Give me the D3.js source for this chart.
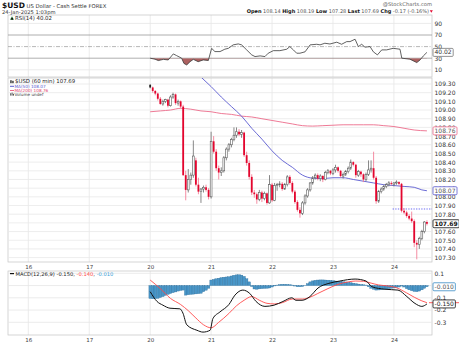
<!DOCTYPE html>
<html><head><meta charset="utf-8">
<script src="https://cdn.jsdelivr.net/npm/d3@7"></script>
<style>
body{margin:0;background:#fff}
svg{display:block}
text{font-family:"DejaVu Sans",Verdana,sans-serif}
</style>
</head><body>
<svg id="c" width="459" height="343"></svg>
<script>
// ---- $USD hourly bars, 20-24 Jan 2025 (bar index = hours since 20 Jan 00:00) ----
const opens = [
109.29,109.26,109.22,109.19,109.13,109.07,109.10,109.12,109.05,109.15,
109.18,109.08,109.10,109.04,108.25,108.08,108.20,108.25,108.42,108.14,
108.06,108.09,108.11,108.08,108.00,108.64,108.52,108.33,108.28,108.30,
108.45,108.55,108.60,108.66,108.71,108.75,108.72,108.74,108.48,108.39,
108.23,108.05,108.03,107.97,108.05,107.98,108.04,107.93,108.14,107.96,
108.13,108.14,108.15,108.09,108.14,108.23,108.16,108.06,107.94,107.85,
107.81,107.93,108.01,108.08,108.16,108.22,108.25,108.21,108.24,108.20,
108.28,108.30,108.27,108.31,108.34,108.30,108.24,108.26,108.29,108.33,
108.40,108.37,108.25,108.29,108.26,108.20,108.26,108.31,108.33,108.22,
107.95,108.06,108.09,108.12,108.14,108.16,108.14,108.16,108.17,108.15,
107.84,107.82,107.78,107.75,107.72,107.47,107.45,107.52,107.60,107.71];
const highs = [
109.30,109.27,109.23,109.20,109.15,109.12,109.13,109.13,109.17,109.20,
109.19,109.12,109.11,109.06,108.30,108.32,108.28,108.65,108.45,108.22,
108.10,108.13,108.14,108.10,108.75,108.70,108.55,108.36,108.34,108.47,
108.57,108.62,108.68,108.80,108.80,108.78,108.77,108.75,108.52,108.42,
108.26,108.08,108.05,108.08,108.07,108.06,108.05,108.25,108.16,108.16,
108.16,108.18,108.17,108.16,108.25,108.25,108.18,108.08,107.96,107.88,
107.95,108.03,108.10,108.17,108.24,108.27,108.27,108.26,108.25,108.30,
108.32,108.31,108.33,108.37,108.35,108.31,108.28,108.31,108.35,108.43,
108.41,108.38,108.31,108.30,108.27,108.28,108.42,108.42,108.52,108.24,
108.08,108.11,108.14,108.16,108.18,108.18,108.17,108.19,108.18,108.16,
107.87,107.84,107.80,107.83,107.74,107.50,107.54,107.62,107.72,107.73];
const lows = [
109.25,109.20,109.17,109.11,109.06,109.05,109.08,109.03,109.04,109.13,
109.06,109.05,109.02,108.24,107.96,108.05,108.14,108.22,108.12,108.03,
107.93,108.05,108.06,107.97,107.98,108.50,108.30,108.20,108.24,108.28,
108.42,108.52,108.57,108.64,108.68,108.70,108.68,108.46,108.36,108.20,
108.02,107.99,107.92,107.95,107.94,107.96,107.91,107.92,107.94,107.95,
108.07,108.11,108.07,108.08,108.12,108.14,108.04,107.92,107.83,107.76,
107.79,107.91,107.99,108.06,108.14,108.20,108.19,108.18,108.17,108.19,
108.26,108.25,108.25,108.28,108.28,108.22,108.21,108.24,108.27,108.31,
108.35,108.22,108.23,108.23,108.17,108.18,108.24,108.28,108.20,107.92,
107.93,108.04,108.07,108.10,108.12,108.13,108.12,108.14,108.13,107.82,
107.80,107.76,107.73,107.70,107.42,107.28,107.40,107.50,107.58,107.67];
const closes = [
109.26,109.22,109.19,109.13,109.07,109.10,109.12,109.05,109.15,109.18,
109.08,109.10,109.04,108.25,108.08,108.20,108.25,108.47,108.14,108.06,
108.09,108.11,108.08,108.00,108.64,108.52,108.33,108.28,108.30,108.45,
108.55,108.60,108.66,108.71,108.75,108.72,108.74,108.48,108.39,108.23,
108.05,108.03,107.97,108.05,107.98,108.04,107.93,108.14,107.96,108.13,
108.14,108.15,108.09,108.14,108.23,108.16,108.06,107.94,107.85,107.81,
107.93,108.01,108.08,108.16,108.22,108.25,108.21,108.24,108.20,108.28,
108.30,108.27,108.31,108.34,108.30,108.24,108.26,108.29,108.33,108.40,
108.37,108.25,108.29,108.26,108.20,108.26,108.31,108.33,108.22,107.95,
108.06,108.09,108.12,108.14,108.16,108.15,108.16,108.17,108.15,107.84,
107.82,107.78,107.75,107.72,107.47,107.45,107.52,107.60,107.71,107.69];
const prevClose = 107.86;

// moving averages, [bar, value]
const ma50 = [[16,109.50],[20,109.38],[24,109.27],[28,109.15],[32,109.04],[36,108.93],
  [40,108.79],[44,108.665],[48,108.53],[52,108.42],[56,108.34],[60,108.25],[64,108.215],
  [68,108.21],[72,108.22],[76,108.22],[80,108.20],[84,108.18],[88,108.16],[92,108.14],
  [96,108.13],[100,108.12],[104,108.11],[107,108.08],[109,108.07]];
const ma200 = [[0,108.98],[4,108.99],[8,109.00],[12,109.02],[16,109.01],[20,108.99],
  [24,108.98],[28,108.96],[32,108.95],[36,108.93],[40,108.92],[44,108.90],[48,108.88],
  [52,108.86],[56,108.84],[60,108.82],[64,108.815],[68,108.82],[72,108.825],[76,108.83],
  [80,108.83],[84,108.83],[88,108.83],[92,108.82],[96,108.81],[100,108.79],[104,108.77],[109,108.76]];

// RSI(14), [bar, value]
const rsi = [[0,30],[1.9,28.3],[3.2,25.9],[5.2,28],[7.1,27],[9.1,37.4],[10.4,34.5],[12.4,30],
  [13.3,21],[14.4,18.4],[15.7,24],[17,28],[18.9,24],[20.9,27],[22.9,26],[24.2,47],[25.5,41.4],
  [27.5,41.4],[29.4,45.5],[30.8,47],[32.7,53],[34.7,54.6],[36,53],[38,44.3],[40,35.7],[41.3,32.8],
  [43.3,34],[45.2,32.8],[46.5,38.6],[48.5,43],[51.1,43],[53.8,45.5],[55,50],[56.4,44.3],[57.7,38.6],
  [59,38.6],[61,41],[63,53],[65.6,54],[66.9,53],[68.8,55.8],[70.8,54.5],[73.5,57.6],[75.4,54],
  [77.4,58.6],[78.7,58.6],[80.7,62.7],[82,50],[83.3,54],[84.6,49],[86.6,50],[87.9,41],[89.5,35.7],
  [91.2,44.3],[93.1,44.3],[95.7,47],[98.4,45.5],[99.1,30],[102.3,28.3],[104.3,24],[105,22.4],
  [106.3,27],[107.6,34],[109,40.02]];

// MACD(12,26,9)
const macdLine = [[0,-0.05],[2.7,-0.13],[5,-0.16],[7.8,-0.185],[11.7,-0.19],[12.9,-0.225],
  [14.4,-0.32],[18.4,-0.365],[20.8,-0.38],[23.6,-0.365],[24.7,-0.27],[27.5,-0.215],[31,-0.155],
  [33.4,-0.078],[36.5,-0.037],[39.2,-0.064],[41.7,-0.13],[45.2,-0.17],[48.8,-0.16],[52.3,-0.13],
  [55.8,-0.10],[57.4,-0.12],[59.8,-0.12],[62.9,-0.09],[66.1,-0.02],[70.4,0.018],[74.7,0.037],
  [80.7,0.053],[85,0.037],[87.4,-0.01],[92.4,-0.03],[97.6,-0.037],[101.1,-0.09],[104.3,-0.146],
  [107,-0.17],[109,-0.15]];
const signalLine = [[0,0.045],[4,-0.025],[8,-0.105],[12,-0.155],[15,-0.205],[18,-0.265],
  [21,-0.32],[24,-0.345],[27,-0.30],[31,-0.228],[34,-0.165],[37,-0.12],[40,-0.09],[43,-0.12],
  [46,-0.145],[49,-0.15],[52,-0.14],[56,-0.11],[60,-0.11],[63,-0.095],[66,-0.065],[70,-0.025],
  [74,0.01],[78,0.03],[81,0.037],[84,0.035],[87,0.02],[90,0.005],[93,-0.002],[97,-0.018],
  [101,-0.06],[104,-0.095],[107,-0.125],[109,-0.14]];
const macdHist = [
-0.105,-0.108,-0.106,-0.104,-0.098,-0.090,-0.080,-0.072,-0.065,-0.058,
-0.052,-0.045,-0.040,-0.037,-0.078,-0.075,-0.072,-0.070,-0.068,-0.066,
-0.063,-0.050,-0.038,-0.022,0.045,0.050,0.055,0.060,0.064,0.068,
0.070,0.072,0.078,0.084,0.087,0.088,0.085,0.075,0.055,0.030,
-0.008,-0.028,-0.030,-0.027,-0.025,-0.023,-0.022,-0.020,-0.012,-0.003,
0.004,0.008,0.010,0.010,0.009,0.007,0.004,-0.004,-0.010,-0.010,
-0.008,-0.002,0.015,0.030,0.038,0.043,0.045,0.046,0.046,0.045,
0.044,0.042,0.040,0.037,0.035,0.033,0.031,0.029,0.026,0.023,
0.019,0.015,0.012,0.009,0.006,0.004,-0.010,-0.022,-0.030,-0.037,
-0.036,-0.034,-0.031,-0.028,-0.025,-0.022,-0.020,-0.016,-0.012,-0.004,
-0.012,-0.025,-0.035,-0.042,-0.048,-0.050,-0.045,-0.035,-0.022,-0.010];

// tick labels
const dayPos = [-48,-24,0,24,48,72,96];
const dayNames = ["16","17","20","21","22","23","24"];
const priceTicks = [107.30,107.40,107.50,107.60,107.70,107.80,107.90,108.00,108.10,108.20,
  108.30,108.40,108.50,108.60,108.70,108.80,108.90,109.00,109.10,109.20,109.30];
const rsiTicks = [90,70,50,30,10];
const macdTicks = [0.1,-0.1,-0.2,-0.3];

// ---- layout ----
const svg = d3.select("#c");
const L = 8, R = 432;
const P = {rsi:[15,77], main:[78,262], macd:[271,335]};
const RED = "#e3062e", BLUE_MA = "#5a5ad0", PINK_MA = "#ec6b8a";
const FONT = '"DejaVu Sans",Verdana,sans-serif';

const x = d3.scaleLinear().domain([-56,111]).range([L,R]);
const yP = d3.scaleLinear().domain([107.30,109.30]).range([257.6,84]);
const yR = d3.scaleLinear().domain([10,90]).range([69.8,23.4]);
const yM = d3.scaleLinear().domain([-0.3,0.1]).range([322.3,273.3]);

const defs = svg.append("defs");
Object.entries(P).forEach(([k,[t,b]])=>{
  defs.append("clipPath").attr("id","clip-"+k).append("rect")
    .attr("x",L).attr("y",t).attr("width",R-L).attr("height",b-t);
});
defs.append("clipPath").attr("id","clip-os").append("rect")
  .attr("x",L).attr("y",yR(30)).attr("width",R-L).attr("height",P.rsi[1]-yR(30));

// panel frames + vertical day grid
Object.entries(P).forEach(([k,[t,b]])=>{
  const g = svg.append("g");
  g.selectAll("line.v").data(dayPos).join("line")
    .attr("x1",d=>x(d)).attr("x2",d=>x(d)).attr("y1",t).attr("y2",b)
    .attr("stroke","#e6e6e6").attr("stroke-width",0.8);
  g.append("rect").attr("x",L).attr("y",t).attr("width",R-L).attr("height",b-t)
    .attr("fill","none").attr("stroke","#c4c4c4").attr("stroke-width",0.7);
});

// horizontal grids
svg.append("g").selectAll("line").data(priceTicks).join("line")
  .attr("x1",L).attr("x2",R).attr("y1",d=>yP(d)).attr("y2",d=>yP(d))
  .attr("stroke","#e8e8e8").attr("stroke-width",0.8);
svg.append("g").selectAll("line").data([90,10]).join("line")
  .attr("x1",L).attr("x2",R).attr("y1",d=>yR(d)).attr("y2",d=>yR(d))
  .attr("stroke","#e6e6e6").attr("stroke-width",0.8);
svg.append("g").selectAll("line").data([70,30]).join("line")
  .attr("x1",L).attr("x2",R).attr("y1",d=>yR(d)).attr("y2",d=>yR(d))
  .attr("stroke","#9a9a9a").attr("stroke-width",0.8);
svg.append("line").attr("x1",L).attr("x2",R).attr("y1",yR(50)).attr("y2",yR(50))
  .attr("stroke","#9a9a9a").attr("stroke-width",0.7).attr("stroke-dasharray","4,1.5,1,1.5");
svg.append("g").selectAll("line").data([0.1,0,-0.1,-0.2,-0.3]).join("line")
  .attr("x1",L).attr("x2",R).attr("y1",d=>yM(d)).attr("y2",d=>yM(d))
  .attr("stroke","#e6e6e6").attr("stroke-width",0.8);

// ---- RSI ----
const rsiG = svg.append("g").attr("clip-path","url(#clip-rsi)");
rsiG.append("path").datum(rsi)
  .attr("clip-path","url(#clip-os)")
  .attr("d", d3.area().x(d=>x(d[0])).y0(yR(30)).y1(d=>yR(d[1])))
  .attr("fill","#a4504f").attr("opacity",0.9);
rsiG.append("path").datum(rsi)
  .attr("d", d3.line().x(d=>x(d[0])).y(d=>yR(d[1])))
  .attr("fill","none").attr("stroke","#3a3a3a").attr("stroke-width",0.8);

// ---- price panel ----
const mainG = svg.append("g").attr("clip-path","url(#clip-main)");
const maLine = d3.line().x(d=>x(d[0])).y(d=>yP(d[1])).curve(d3.curveMonotoneX);
mainG.append("path").datum(ma200).attr("d",maLine)
  .attr("fill","none").attr("stroke",PINK_MA).attr("stroke-width",0.9);
mainG.append("path").datum(ma50).attr("d",maLine)
  .attr("fill","none").attr("stroke",BLUE_MA).attr("stroke-width",0.9);
mainG.append("line").attr("x1",x(95.5)).attr("x2",R)
  .attr("y1",yP(prevClose)).attr("y2",yP(prevClose))
  .attr("stroke","#4646f0").attr("stroke-width",0.8).attr("stroke-dasharray","1.3,1.3");

const bars = closes.map((c,i)=>{
  const o = opens[i];
  const down = i>0 && c < closes[i-1];
  const col = down ? RED : (c < o ? "#222" : "#5c5c5c");
  return {i,o,h:highs[i],l:lows[i],c,down,col,filled:c<o};
});
const bw = 1.8;
const cg = mainG.append("g");
cg.selectAll("line").data(bars).join("line")
  .attr("x1",d=>x(d.i)).attr("x2",d=>x(d.i))
  .attr("y1",d=>yP(d.h)).attr("y2",d=>yP(d.l))
  .attr("stroke",d=>d.down ? "#f2708c" : "#6a6a6a").attr("stroke-width",0.8);
cg.selectAll("rect").data(bars).join("rect")
  .attr("x",d=>x(d.i)-bw/2).attr("width",bw)
  .attr("y",d=>yP(Math.max(d.o,d.c)))
  .attr("height",d=>Math.max(0.9, Math.abs(yP(d.o)-yP(d.c))))
  .attr("fill",d=>d.filled ? d.col : "#fff")
  .attr("stroke",d=>d.filled ? "none" : d.col).attr("stroke-width",0.6);

// ---- MACD ----
const macdG = svg.append("g").attr("clip-path","url(#clip-macd)");
const hw = (x(1)-x(0));
macdG.selectAll("rect").data(macdHist).join("rect")
  .attr("x",(d,i)=>x(i)-hw/2).attr("width",hw)
  .attr("y",d=>Math.min(yM(0),yM(d))).attr("height",d=>Math.abs(yM(d)-yM(0)))
  .attr("fill","#4996c8").attr("stroke","#2d6e9b").attr("stroke-width",0.35);
const mLine = d3.line().x(d=>x(d[0])).y(d=>yM(d[1])).curve(d3.curveMonotoneX);
macdG.append("path").datum(signalLine).attr("d",mLine)
  .attr("fill","none").attr("stroke","#ff4a4a").attr("stroke-width",0.9);
macdG.append("path").datum(macdLine).attr("d",mLine)
  .attr("fill","none").attr("stroke","#111").attr("stroke-width",1);

// ---- right axes ----
const lastClose = closes[closes.length-1];
function rightAxis(scale, ticks, fmt){
  const g = svg.append("g").attr("transform",`translate(${R},0)`)
    .call(d3.axisRight(scale).tickValues(ticks).tickFormat(fmt).tickSize(0).tickPadding(2.5));
  g.select(".domain").remove();
  g.attr("font-size",6).attr("font-family",FONT);
  g.selectAll("text").attr("fill","#333");
  return g;
}
const priceAxis = rightAxis(yP, priceTicks, d3.format(".2f"));
// the last-price tag sits over its neighbouring tick label
priceAxis.selectAll(".tick").filter(d=>Math.abs(d-lastClose)<0.05).select("text").remove();
rightAxis(yR, rsiTicks, d3.format("d"));
rightAxis(yM, macdTicks, d=>d3.format(".1f")(d).replace("−","-"));

function valueBox(y, label, stroke, color, bold){
  const g = svg.append("g");
  const t = g.append("text").attr("x",R+2.5).attr("y",y).attr("dy","0.34em")
    .attr("font-size",6).attr("font-family",FONT).attr("fill",color)
    .attr("font-weight",bold?"bold":null).text(label);
  const w = t.node().getComputedTextLength();
  g.insert("rect","text").attr("x",R+1).attr("y",y-4).attr("width",w+3).attr("height",8)
    .attr("rx",1).attr("fill","#fff").attr("stroke",stroke).attr("stroke-width",0.8);
}
valueBox(yP(108.76),"108.76",PINK_MA,"#555");
valueBox(yP(108.07),"108.07",BLUE_MA,"#555");
valueBox(yP(lastClose),"107.69","#111","#111",true);
valueBox(yR(40.02),"40.02","#777","#333");
svg.append("line").attr("x1",R-3).attr("x2",459).attr("y1",yM(-0.14)).attr("y2",yM(-0.14))
  .attr("stroke","#ff4a4a").attr("stroke-width",0.9);
valueBox(yM(-0.010),"-0.010","#3a8cc4","#555");
valueBox(yM(-0.150),"-0.150","#111","#222");

// ---- date axes ----
function dateAxis(y){
  const g = svg.append("g").attr("transform",`translate(0,${y})`)
    .call(d3.axisBottom(x).tickValues(dayPos).tickFormat((d,k)=>dayNames[k]).tickSize(0).tickPadding(3));
  g.select(".domain").remove();
  g.attr("font-size",5.5).attr("font-family",FONT);
  g.selectAll("text").attr("fill","#444");
}
dateAxis(P.main[1]);
dateAxis(P.macd[1]);

// ---- header ----
const hdr = svg.append("text").attr("x",2).attr("y",8).attr("font-family",FONT).attr("fill","#111");
hdr.append("tspan").attr("font-size",7.5).attr("font-weight","bold").text("$USD");
hdr.append("tspan").attr("font-size",5.3).attr("fill","#333").text(" US Dollar - Cash Settle FOREX");
svg.append("text").attr("x",2).attr("y",13.5).attr("font-size",5.2).attr("font-family",FONT)
  .attr("fill","#333").text("24-Jan-2025 1:03pm");
svg.append("text").attr("x",R).attr("y",6).attr("text-anchor","end").attr("font-size",5.2)
  .attr("font-family",FONT).attr("fill","#666").text("@StockCharts.com");
const q = svg.append("text").attr("x",R-3).attr("y",13).attr("text-anchor","end")
  .attr("font-size",5).attr("font-family",FONT).attr("fill","#555");
[["Open"," 108.14 "],["High"," 108.19 "],["Low"," 107.28 "],["Last"," 107.69 "],["Chg"," -0.17 (-0.16%)"]]
  .forEach(([a,b])=>{
    q.append("tspan").attr("font-weight","bold").attr("fill","#111").text(a);
    q.append("tspan").text(b);
  });
svg.append("path").attr("d",`M${R-2.2},10.2 L${R+0.8},10.2 L${R-0.7},12.8 Z`).attr("fill",RED);

// ---- legends ----
function legendText(xp, y, size, parts){
  const t = svg.append("text").attr("x",xp).attr("y",y).attr("font-size",size).attr("font-family",FONT);
  parts.forEach(([s,c])=>t.append("tspan").attr("fill",c).text(s));
}
// RSI
svg.append("path").attr("d","M10,19.8 L12,16.2 L14,19.8 Z").attr("fill","#2a7a3a");
svg.append("rect").attr("x",11.3).attr("y",18).attr("width",1.6).attr("height",1.8).attr("fill","#111");
legendText(15,20,5.4,[["RSI(14) 40.02","#222"]]);
// price
svg.append("rect").attr("x",10.3).attr("y",80.2).attr("width",1.3).attr("height",3).attr("fill","#222");
svg.append("rect").attr("x",12.3).attr("y",80.8).attr("width",1.3).attr("height",2.4).attr("fill","#222");
legendText(15,83.4,5.4,[["$USD (60 min) 107.69","#222"]]);
svg.append("line").attr("x1",10).attr("x2",14).attr("y1",86.3).attr("y2",86.3).attr("stroke",BLUE_MA).attr("stroke-width",1);
legendText(14.5,87.8,4.2,[["MA(50) 108.07",BLUE_MA]]);
svg.append("line").attr("x1",10).attr("x2",14).attr("y1",90.5).attr("y2",90.5).attr("stroke",PINK_MA).attr("stroke-width",1);
legendText(14.5,92,4.2,[["MA(200) 108.76","#e0406a"]]);
svg.append("rect").attr("x",10.2).attr("y",93.2).attr("width",1).attr("height",2.4).attr("fill","#555");
svg.append("rect").attr("x",11.6).attr("y",92.6).attr("width",1).attr("height",3).attr("fill","#555");
svg.append("rect").attr("x",13).attr("y",93.8).attr("width",1).attr("height",1.8).attr("fill","#555");
legendText(14.5,96,4.2,[["Volume undef","#444"]]);
// MACD
svg.append("line").attr("x1",10).attr("x2",14).attr("y1",273.6).attr("y2",273.6).attr("stroke","#111").attr("stroke-width",1.2);
legendText(15.5,275.6,5.2,[["MACD(12,26,9) -0.150, ","#222"],["-0.140","#ff4a4a"],[", ","#222"],["-0.010","#3aa0d8"]]);
</script>
</body></html>
